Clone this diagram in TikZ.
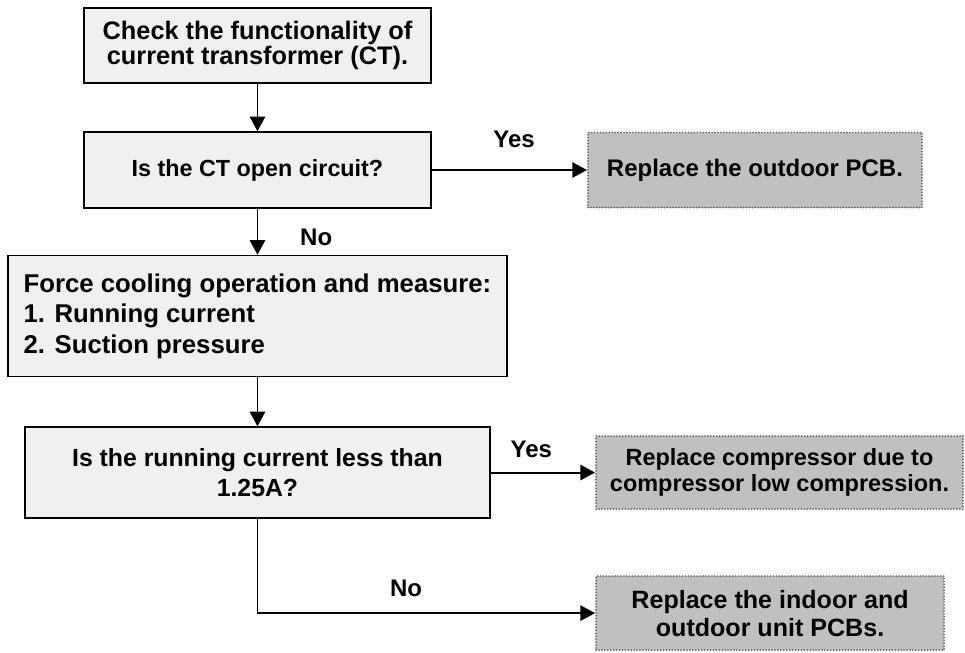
\documentclass[tikz,border=0pt]{standalone}
\usepackage{fontspec}
\setmainfont{Liberation Sans}
\usetikzlibrary{positioning, arrows.meta}

\definecolor{boxfill}{HTML}{F0F0F0}
\definecolor{resultfill}{HTML}{C0C0C0}
\definecolor{dotline}{HTML}{666666}

\begin{document}
\begin{tikzpicture}
    [
        on grid,
        node distance=93pt and 373pt,
        check/.style={draw, rectangle, fill=boxfill, line width=1.1pt, align=center, inner sep=0pt,
            font=\bfseries\fontsize{18}{23}\selectfont},
        result/.style={draw=dotline, rectangle, fill=resultfill, line width=1.5pt, line cap=round,
            dash pattern=on 0pt off 2.2pt, align=center, inner sep=0pt,
            font=\bfseries\fontsize{18}{20.5}\selectfont},
        answer/.style={font=\bfseries\fontsize{18}{22}\selectfont},
        flow/.style={-{Triangle[length=11pt, width=11.5pt]}, line width=1.4pt}
    ]
        \useasboundingbox (-193.1pt,34.1pt) rectangle (530.6pt,-455.6pt);
        % =========================================================================
        % NODES
        % =========================================================================
        % --- Column 1 ---
        \node [check, minimum width=260.25pt, minimum height=56.25pt,
            font=\bfseries\fontsize{19}{16.5}\selectfont] (ctcheck)
            {Check the functionality of\\current transformer (CT).};
        \node [check, below=93.4pt of ctcheck, minimum width=260.25pt, minimum height=57pt,
            font=\bfseries\fontsize{17.5}{21}\selectfont] (ctopen)
            {Is the CT open circuit?};
        \node [check, below=109.5pt of ctopen, minimum width=374.25pt, minimum height=90.75pt,
            align=left, font=\bfseries\fontsize{19.3}{23}\selectfont] (forcecool)
            {Force cooling operation and measure:\\1. Running current\\2. Suction pressure};
        \node [check, below=117.4pt of forcecool, minimum width=348.75pt, minimum height=68.25pt,
            font=\bfseries\fontsize{18.6}{23}\selectfont] (lowamp)
            {Is the running current less than\\1.25A?};
        % --- Column 2 ---
        \node [result, right=373.1pt of ctopen, minimum width=250.5pt, minimum height=56.25pt] (newodu)
            {Replace the outdoor PCB.};
        \node [result, right=391.5pt of lowamp, minimum width=275.25pt, minimum height=54.75pt,
            font=\bfseries\fontsize{17.6}{20}\selectfont] (newcomp)
            {Replace compressor due to\\compressor low compression.};
        \node [result, below right=105.4pt and 384.4pt of lowamp, minimum width=261pt, minimum height=55.5pt,
            font=\bfseries\fontsize{18.8}{21}\selectfont] (newpcbs)
            {Replace the indoor and\\outdoor unit PCBs.};

        % =========================================================================
        % PATHS
        % =========================================================================
        % --- VERTICAL ---
        \draw [flow] (ctcheck.south) -- (ctopen.north);
        \draw [flow] (ctopen.south) -- (forcecool.north)
            node [answer, pos=0.63, right=28pt] (no1) {No};
        \draw [flow] (forcecool.south) -- (lowamp.north);
        % --- HORIZONTAL ---
        \draw [flow] (ctopen.east) -- (newodu.west)
            node [answer, pos=0.53, above=13pt] (yes1) {Yes};
        \draw [flow] (lowamp.east) -- (lowamp.east -| newcomp.west)
            node [answer, pos=0.39, above=7pt] (yes2) {Yes};
        % --- ANGLED ---
        \draw [flow] (lowamp.south) |- (newpcbs.west)
            node [answer, pos=0.72, above=8pt] (no2) {No};
    \end{tikzpicture}
\end{document}
